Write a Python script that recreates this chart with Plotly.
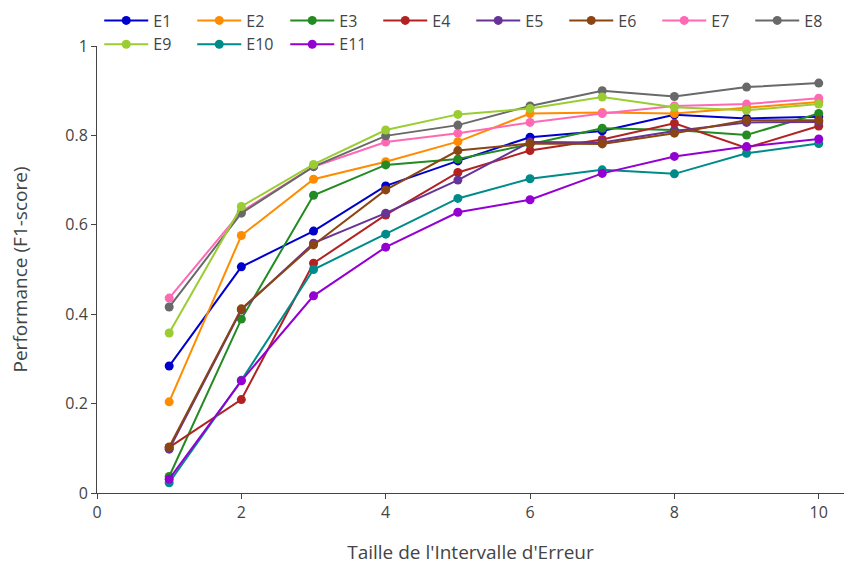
import plotly.graph_objects as go

x_vals = [1, 2, 3, 4, 5, 6, 7, 8, 9, 10]

series_names = ["E1", "E2", "E3", "E4", "E5", "E6", "E7", "E8", "E9", "E10", "E11"]

E1 = [0.284, 0.506, 0.586, 0.687, 0.743, 0.796, 0.810, 0.846, 0.838, 0.842]
E2 = [0.204, 0.576, 0.702, 0.741, 0.786, 0.849, 0.851, 0.849, 0.862, 0.875]
E3 = [0.037, 0.389, 0.666, 0.734, 0.747, 0.780, 0.816, 0.812, 0.801, 0.849]
E4 = [0.102, 0.209, 0.514, 0.622, 0.717, 0.766, 0.791, 0.827, 0.772, 0.821]
E5 = [0.098, 0.410, 0.559, 0.626, 0.700, 0.785, 0.784, 0.810, 0.829, 0.830]
E6 = [0.103, 0.412, 0.555, 0.678, 0.766, 0.782, 0.781, 0.805, 0.834, 0.834]
E7 = [0.436, 0.630, 0.730, 0.785, 0.805, 0.829, 0.849, 0.866, 0.870, 0.883]
E8 = [0.416, 0.626, 0.730, 0.799, 0.823, 0.866, 0.900, 0.887, 0.908, 0.917]
E9 = [0.358, 0.641, 0.735, 0.812, 0.847, 0.860, 0.886, 0.863, 0.856, 0.870]
E10 = [0.023, 0.252, 0.500, 0.579, 0.659, 0.703, 0.723, 0.714, 0.760, 0.782]
E11 = [0.031, 0.251, 0.441, 0.550, 0.628, 0.656, 0.715, 0.753, 0.775, 0.792]

colors = ["#0000CD", "#FF8C00", "#228B22", "#B22222", "#663399", "#8B4513",
          "#FF69B4", "#696969", "#9ACD32", "#008B8B", "#9400D3"]

all_series = [E1, E2, E3, E4, E5, E6, E7, E8, E9, E10, E11]

fig = go.Figure()
for name, ys, c in zip(series_names, all_series, colors):
    fig.add_trace(go.Scatter(
        x=x_vals, y=ys, mode="lines+markers", name=name,
        line=dict(color=c, width=2),
        marker=dict(color=c, size=9),
    ))

fig.update_layout(
    width=844, height=565,
    paper_bgcolor="white", plot_bgcolor="white",
    font=dict(family="Open Sans", size=16, color="#444"),
    margin=dict(l=97, r=0, t=46, b=72),
    legend=dict(orientation="h", x=0.003, xanchor="left", y=1.095, yanchor="top",
                bgcolor="rgba(0,0,0,0)", font=dict(size=16),
                itemwidth=44, entrywidth=34),
    xaxis=dict(
        title=dict(text="Taille de l'Intervalle d'Erreur", standoff=29),
        range=[0, 10.35], showgrid=False, zeroline=False,
        showline=True, linecolor="#444", linewidth=1,
        ticks="outside", ticklen=5, tickcolor="#444",
        tickvals=[0, 2, 4, 6, 8, 10],
    ),
    yaxis=dict(
        title=dict(text="Performance (F1-score)", standoff=32),
        range=[0, 1], showgrid=False, zeroline=False,
        showline=True, linecolor="#444", linewidth=1,
        ticks="outside", ticklen=5, tickcolor="#444",
        tickvals=[0, 0.2, 0.4, 0.6, 0.8, 1],
    ),
)

fig.write_html("out.html")
